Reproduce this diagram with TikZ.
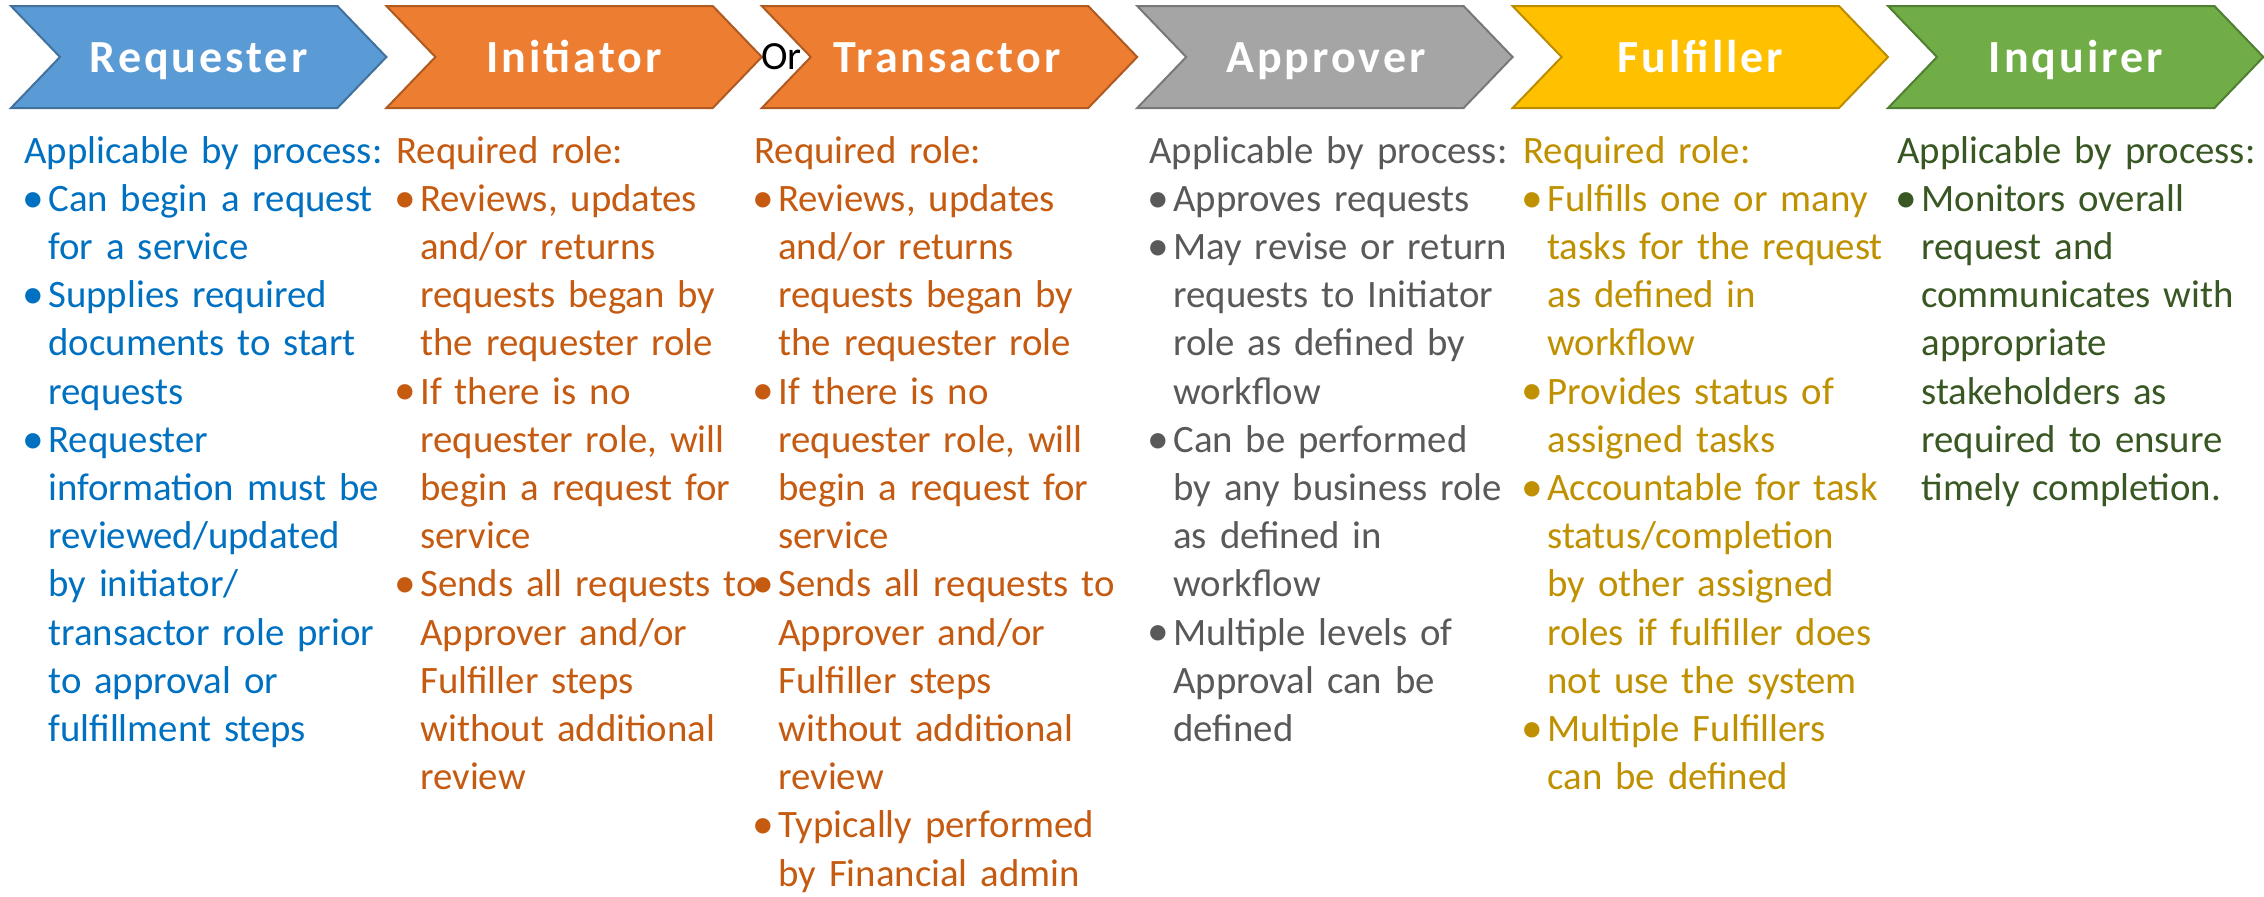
\documentclass[tikz,border=0pt]{standalone}
\usepackage{fontspec}
\setmainfont{Carlito}
\newfontfamily\rolefont{Carlito}[LetterSpace=6.5]
\usetikzlibrary{positioning}

% fills, outlines and text colours of the six roles
\definecolor{reqfill}{HTML}{5B9BD5}\definecolor{reqline}{HTML}{41719C}\definecolor{reqtext}{HTML}{0070C0}
\definecolor{inifill}{HTML}{ED7D31}\definecolor{iniline}{HTML}{AE5A21}\definecolor{initext}{HTML}{C55A11}
\definecolor{appfill}{HTML}{A5A5A5}\definecolor{appline}{HTML}{787878}\definecolor{apptext}{HTML}{595959}
\definecolor{fulfill}{HTML}{FFC000}\definecolor{fulline}{HTML}{BC8C00}\definecolor{fultext}{HTML}{BF9000}
\definecolor{inqfill}{HTML}{70AD47}\definecolor{inqline}{HTML}{507E32}\definecolor{inqtext}{HTML}{385723}

\tikzset{chevron/.style={line width=1pt, line join=miter}}
\tikzset{role/.style={anchor=base, inner sep=0, text=white, font=\rolefont\bfseries\fontsize{23}{27}\selectfont}}
\tikzset{duty/.style={anchor=base west, inner sep=0, align=left, text width=186pt, font=\fontsize{19.4}{24.1}\selectfont}}

\newcommand\bul{\makebox[12pt][l]{\hspace{-0.8pt}\raisebox{-0.4pt}{\scalebox{1.12}{\textbullet}}}}
\newcommand\ind{\hspace*{12pt}}

\begin{document}
\begin{tikzpicture}[x=0.5pt,y=-0.5pt]
\useasboundingbox (0,0) rectangle (2264,896);

% chevrons
\foreach \i/\fc/\lc in {0/reqfill/reqline,1/inifill/iniline,2/inifill/iniline,3/appfill/appline,4/fulfill/fulline,5/inqfill/inqline}{
  \pgfmathsetmacro\l{11+375.4*\i}
  \draw[chevron,fill=\fc,draw=\lc] (\l,6) -- ++(326.4,0) -- ++(49,51) -- ++(-49,51) -- ++(-326.4,0) -- ++(49,-51) -- cycle;
}

\node[role] (requester) at (198.7,72) {Requester};
\node[role] (initiator) at (574.1,72) {Initiator};
\node[role] (transactor) at (947,72) {Transactor};
\node[role] (approver) at (1326,72) {Approver};
\node[role] (fulfiller) at (1700.3,72) {Fulfiller};
\node[role] (inquirer) at (2075.7,72) {Inquirer};
\node[anchor=base west,inner sep=0,font=\fontsize{20}{24}\selectfont] (or) at (761,69) {Or};

% duties under each chevron
\node[duty,text=reqtext] (reqinfo) at (24,163) {Applicable by process:\\
\bul Can begin a request\\ \ind for a service\\
\bul Supplies required\\ \ind documents to start\\ \ind requests\\
\bul Requester\\ \ind information must be\\ \ind reviewed/updated\\ \ind by initiator/\\ \ind transactor role prior\\ \ind to approval or\\ \ind fulfillment steps};

\node[duty,text=initext] (iniinfo) at (396,163) {Required role:\\
\bul Reviews, updates\\ \ind and/or returns\\ \ind requests began by\\ \ind the requester role\\
\bul If there is no\\ \ind requester role, will\\ \ind begin a request for\\ \ind service\\
\bul Sends all requests to\\ \ind Approver and/or\\ \ind Fulfiller steps\\ \ind without additional\\ \ind review};

\node[duty,text=initext] (trainfo) at (754,163) {Required role:\\
\bul Reviews, updates\\ \ind and/or returns\\ \ind requests began by\\ \ind the requester role\\
\bul If there is no\\ \ind requester role, will\\ \ind begin a request for\\ \ind service\\
\bul Sends all requests to\\ \ind Approver and/or\\ \ind Fulfiller steps\\ \ind without additional\\ \ind review\\
\bul Typically performed\\ \ind by Financial admin};

\node[duty,text=apptext] (appinfo) at (1149,163) {Applicable by process:\\
\bul Approves requests\\
\bul May revise or return\\ \ind requests to Initiator\\ \ind role as defined by\\ \ind workflow\\
\bul Can be performed\\ \ind by any business role\\ \ind as defined in\\ \ind workflow\\
\bul Multiple levels of\\ \ind Approval can be\\ \ind defined};

\node[duty,text=fultext] (fulinfo) at (1523,163) {Required role:\\
\bul Fulfills one or many\\ \ind tasks for the request\\ \ind as defined in\\ \ind workflow\\
\bul Provides status of\\ \ind assigned tasks\\
\bul Accountable for task\\ \ind status/completion\\ \ind by other assigned\\ \ind roles if fulfiller does\\ \ind not use the system\\
\bul Multiple Fulfillers\\ \ind can be defined};

\node[duty,text=inqtext] (inqinfo) at (1897,163) {Applicable by process:\\
\bul Monitors overall\\ \ind request and\\ \ind communicates with\\ \ind appropriate\\ \ind stakeholders as\\ \ind required to ensure\\ \ind timely completion.};
\end{tikzpicture}
\end{document}
